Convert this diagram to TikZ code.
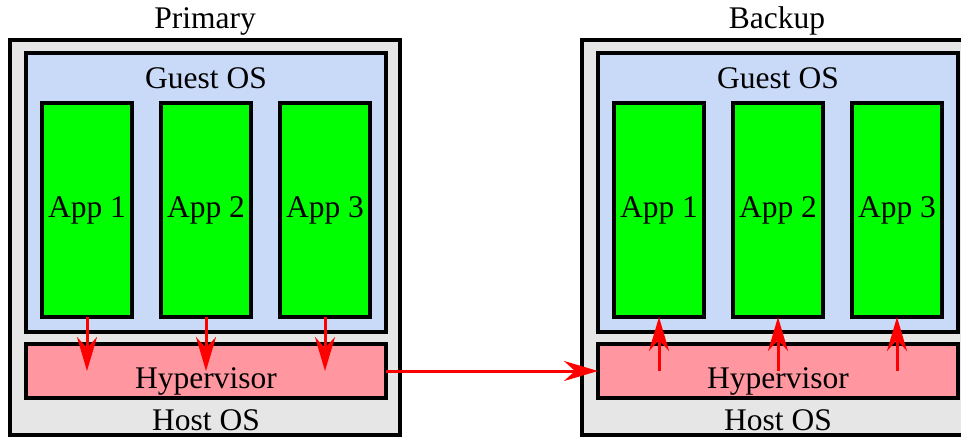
\documentclass[tikz,border=0pt]{standalone}
\usepackage{fontspec}
\setmainfont{Liberation Serif}
\usetikzlibrary{arrows.meta}
\definecolor{hostgray}{RGB}{230,230,230}
\definecolor{guestblue}{RGB}{201,218,248}
\definecolor{appgreen}{RGB}{0,255,0}
\definecolor{hyppink}{RGB}{255,150,160}
\definecolor{arrred}{RGB}{255,0,0}
\tikzset{
  box/.style={draw=black, line width=3.5pt, inner sep=0pt, outer sep=0pt},
  hostbox/.style={box, fill=hostgray, minimum width=390pt, minimum height=395pt},
  guestbox/.style={box, fill=guestblue, minimum width=360pt, minimum height=279pt},
  appbox/.style={box, fill=appgreen, minimum width=90pt, minimum height=214pt},
  hypbox/.style={box, fill=hyppink, minimum width=360pt, minimum height=54pt},
  lbl/.style={inner sep=0pt, font=\fontsize{31.5}{36}\selectfont},
  redarrow/.style={draw=arrred, line width=3pt, -{Stealth[length=34pt, width=20pt, inset=11pt]}},
}
\begin{document}
\begin{tikzpicture}[x=1pt, y=-1pt]
\useasboundingbox (0,0) rectangle (961,437);
% Primary
\node[hostbox] (ph) at (205,237.5) {};
\node[guestbox] (pg) at (206,192.5) {};
\node[appbox] (pa1) at (87,210) {};
\node[appbox] (pa2) at (206,210) {};
\node[appbox] (pa3) at (325,210) {};
\node[hypbox] (phy) at (206,371) {};
\node[lbl] (pt) at (205,21) {Primary};
\node[lbl] (pgt) at (206,78) {Guest OS};
\node[lbl] (pa1t) at (87,210) {App 1};
\node[lbl] (pa2t) at (206,210) {App 2};
\node[lbl] (pa3t) at (325,210) {App 3};
\node[lbl] (phyt) at (206,381) {Hypervisor};
\node[lbl] (pht) at (206,420) {Host OS};
% Backup
\node[hostbox] (bh) at (777,237.5) {};
\node[guestbox] (bg) at (778,192.5) {};
\node[appbox] (ba1) at (659,210) {};
\node[appbox] (ba2) at (778,210) {};
\node[appbox] (ba3) at (897,210) {};
\node[hypbox] (bhy) at (778,371) {};
\node[lbl] (bt) at (777,21) {Backup};
\node[lbl] (bgt) at (778,78) {Guest OS};
\node[lbl] (ba1t) at (659,210) {App 1};
\node[lbl] (ba2t) at (778,210) {App 2};
\node[lbl] (ba3t) at (897,210) {App 3};
\node[lbl] (bhyt) at (778,381) {Hypervisor};
\node[lbl] (bht) at (778,420) {Host OS};
% arrows
\coordinate (pe1) at (pa1.south |- phy.center);
\coordinate (pe2) at (pa2.south |- phy.center);
\coordinate (pe3) at (pa3.south |- phy.center);
\draw[redarrow] (pa1.south) -- (pe1);
\draw[redarrow] (pa2.south) -- (pe2);
\draw[redarrow] (pa3.south) -- (pe3);
\coordinate (bs1) at (ba1.south |- bhy.center);
\coordinate (bs2) at (ba2.south |- bhy.center);
\coordinate (bs3) at (ba3.south |- bhy.center);
\draw[redarrow] (bs1) -- (ba1.south);
\draw[redarrow] (bs2) -- (ba2.south);
\draw[redarrow] (bs3) -- (ba3.south);
\draw[redarrow] (phy.east) -- (bhy.west);
\end{tikzpicture}
\end{document}
